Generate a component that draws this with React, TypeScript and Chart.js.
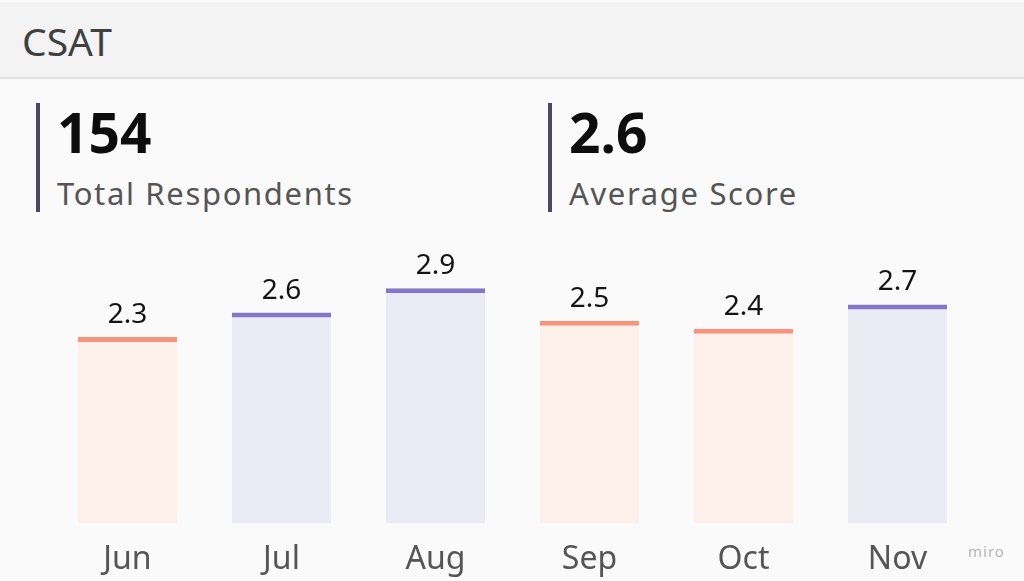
import React, { useEffect, useRef } from "react";
import { Chart, registerables } from "chart.js";

Chart.register(...registerables);

const months: string[] = ["Jun", "Jul", "Aug", "Sep", "Oct", "Nov"];
const scores: number[] = [2.3, 2.6, 2.9, 2.5, 2.4, 2.7];
const totalRespondents = 154;
const averageScore = 2.6;

const FONT = "'Noto Sans', sans-serif";
const ORANGE_LINE = "#f5957b";
const ORANGE_FILL = "#fdefea";
const PURPLE_LINE = "#8677c6";
const PURPLE_FILL = "#ebebf6";

const labelPlugin = {
  id: "valueLabels",
  afterDatasetsDraw(chart: any) {
    const ctx = chart.ctx;
    const meta = chart.getDatasetMeta(0);
    ctx.save();
    ctx.font = `400 28px ${FONT}`;
    ctx.fillStyle = "#141414";
    ctx.textAlign = "center";
    ctx.textBaseline = "alphabetic";
    meta.data.forEach((bar: any, i: number) => {
      const v = chart.data.datasets[0].data[i] as number;
      ctx.fillText(v.toFixed(1), bar.x, bar.y - 14);
    });
    ctx.restore();
  },
};

function BarChart() {
  const ref = useRef<HTMLCanvasElement | null>(null);
  useEffect(() => {
    if (!ref.current) return;
    const isHigh = (v: number) => v >= averageScore;
    const chart = new Chart(ref.current, {
      type: "bar",
      data: {
        labels: months,
        datasets: [
          {
            data: scores,
            backgroundColor: scores.map((v) => (isHigh(v) ? PURPLE_FILL : ORANGE_FILL)),
            borderColor: scores.map((v) => (isHigh(v) ? PURPLE_LINE : ORANGE_LINE)),
            borderWidth: { top: 5, right: 0, bottom: 0, left: 0 },
            borderSkipped: false,
            categoryPercentage: 1,
            barPercentage: 0.643,
          },
        ],
      },
      options: {
        animation: false,
        responsive: true,
        maintainAspectRatio: false,
        layout: { padding: { top: 3.4, bottom: 10, left: 50.5, right: 49.5 } },
        plugins: { legend: { display: false }, tooltip: { enabled: false } },
        scales: {
          x: {
            grid: { display: false, drawTicks: false },
            border: { display: false },
            ticks: { color: "#555555", font: { family: FONT, size: 32 }, padding: 17 },
          },
          y: { display: false, min: 0, max: 3.6 },
        },
      },
      plugins: [labelPlugin],
    });
    return () => chart.destroy();
  }, []);
  return (
    <div style={{ position: "absolute", left: 0, top: 228, width: 1024, height: 378 }}>
      <canvas ref={ref} />
    </div>
  );
}

function Kpi({ left, value, label }: { left: number; value: string; label: string }) {
  return (
    <>
      <div style={{ position: "absolute", left, top: 103, width: 4, height: 109, background: "#4b4763" }} />
      <div
        style={{
          position: "absolute",
          left: left + 21,
          top: 104,
          fontFamily: FONT,
          fontWeight: 700,
          fontSize: 55,
          lineHeight: 1,
          color: "#0d0d0d",
          whiteSpace: "nowrap",
        }}
      >
        {value}
      </div>
      <div
        style={{
          position: "absolute",
          left: left + 21,
          top: 178,
          fontFamily: FONT,
          fontSize: 31,
          lineHeight: 1,
          letterSpacing: 1.65,
          color: "#555555",
          whiteSpace: "nowrap",
        }}
      >
        {label}
      </div>
    </>
  );
}

export default function App() {
  return (
    <div
      style={{
        position: "fixed",
        left: 0,
        top: 0,
        width: 1024,
        height: 581,
        background: "#fafafa",
        overflow: "hidden",
      }}
    >
      <div
        style={{
          position: "absolute",
          left: 0,
          top: 0,
          width: 1024,
          height: 79,
          background: "#f3f3f3",
          borderTop: "2px solid #fbfbfb",
          boxSizing: "border-box",
          borderBottom: "2px solid #e2e2e2",
        }}
      />
      <div
        style={{
          position: "absolute",
          left: 22,
          top: 21,
          fontFamily: FONT,
          fontSize: 39,
          lineHeight: 1,
          color: "#404040",
          whiteSpace: "nowrap",
        }}
      >
        CSAT
      </div>
      <Kpi left={36} value={String(totalRespondents)} label="Total Respondents" />
      <Kpi left={548} value={averageScore.toFixed(1)} label="Average Score" />
      <BarChart />
      <div
        style={{
          position: "absolute",
          left: 968,
          top: 544,
          fontFamily: FONT,
          fontSize: 15,
          lineHeight: 1,
          letterSpacing: 1,
          color: "#b5b5b5",
          whiteSpace: "nowrap",
        }}
      >
        miro
      </div>
    </div>
  );
}
